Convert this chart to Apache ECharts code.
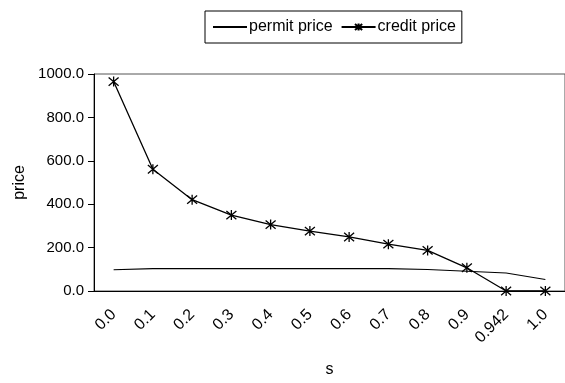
<!DOCTYPE html>
<html>
<head>
<meta charset="utf-8">
<script src="https://cdn.jsdelivr.net/npm/echarts@6/dist/echarts.min.js"></script>
<style>
  html, body { margin: 0; padding: 0; background: #fff; }
  #chart { width: 565px; height: 383px; }
</style>
</head>
<body>
<div id="chart"></div>
<script>
// s values along the horizontal axis
const sLabels = ['0.0', '0.1', '0.2', '0.3', '0.4', '0.5', '0.6', '0.7', '0.8', '0.9', '0.942', '1.0'];
// price series
const permitPrice = [98, 103, 103, 103, 103, 103, 103, 103, 99, 91, 83, 53];
const creditPrice = [965, 561, 421, 350, 306, 276, 249, 216, 187, 107, 0, 0];
// price axis ticks
const priceMin = 0;
const priceMax = 1000;
const priceStep = 200;

const FONT = '"Liberation Sans", Arial, sans-serif';
// six-armed asterisk marker
const asterisk = 'path://M0,0L10,10M10,0L0,10M5,-1L5,11';

const chart = echarts.init(document.getElementById('chart'), null, { renderer: 'canvas' });

chart.setOption({
  animation: false,
  backgroundColor: '#fff',
  textStyle: { fontFamily: FONT, color: '#000' },
  legend: {
    left: 205,
    top: 11,
    padding: [8, 6, 8, 7],
    itemGap: 8,
    itemWidth: 34,
    itemHeight: 9,
    borderColor: '#000',
    borderWidth: 1,
    textStyle: { fontFamily: FONT, fontSize: 16, color: '#000', padding: [0, 0, 0, -3] },
    data: [
      { name: 'permit price', itemStyle: { opacity: 0 } },
      { name: 'credit price' }
    ]
  },
  grid: {
    left: 94,
    top: 74,
    right: -9,
    bottom: 90,
    show: true,
    borderColor: '#555',
    borderWidth: 1
  },
  xAxis: {
    type: 'category',
    data: sLabels,
    boundaryGap: true,
    name: 's',
    nameLocation: 'middle',
    nameGap: 71,
    nameTextStyle: { fontFamily: FONT, fontSize: 16, color: '#000' },
    axisLine: { lineStyle: { color: '#000', width: 1 } },
    axisTick: { alignWithLabel: false, length: 5, lineStyle: { color: '#000' } },
    axisLabel: { rotate: 45, margin: 21, fontFamily: FONT, fontSize: 16, color: '#000' },
    splitLine: { show: false }
  },
  yAxis: {
    type: 'value',
    min: priceMin,
    max: priceMax,
    interval: priceStep,
    name: 'price',
    nameLocation: 'middle',
    nameRotate: 90,
    nameGap: 66,
    nameTextStyle: { fontFamily: FONT, fontSize: 16, color: '#000' },
    axisLine: { show: true, lineStyle: { color: '#000', width: 1 } },
    axisTick: { show: true, length: 6, lineStyle: { color: '#000' } },
    axisLabel: {
      margin: 10,
      fontFamily: FONT,
      fontSize: 15,
      color: '#000',
      formatter: v => v.toFixed(1)
    },
    splitLine: { show: false }
  },
  series: [
    {
      name: 'permit price',
      type: 'line',
      data: permitPrice,
      symbol: 'none',
      lineStyle: { color: '#000', width: 1.2 },
      itemStyle: { color: '#000' }
    },
    {
      name: 'credit price',
      type: 'line',
      data: creditPrice,
      symbol: asterisk,
      symbolSize: 10,
      showAllSymbol: true,
      lineStyle: { color: '#000', width: 1.3 },
      itemStyle: { color: '#000', borderColor: '#000', borderWidth: 1.3 }
    }
  ]
});
</script>
</body>
</html>
